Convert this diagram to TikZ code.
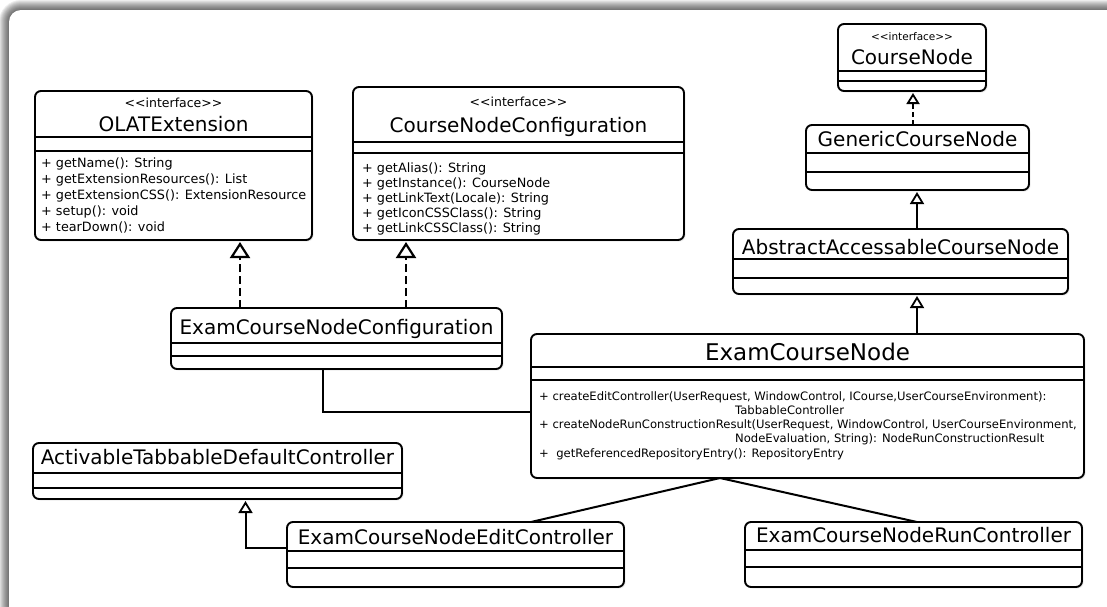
\documentclass[tikz,border=0pt]{standalone}
\usepackage{fontspec}
\setmainfont{DejaVu Sans}
\usetikzlibrary{arrows.meta,shadows}

% class box: name, left, top, right, bottom, first separator, second separator
\newcommand\umlcls[7]{%
  \node[umlbox, minimum width={(#4-#2)*1pt}, minimum height={(#5-#3)*1pt}] (#1) at (#2,#3) {};
  \draw[sep] (#2,#6) -- (#4,#6);
  \draw[sep] (#2,#7) -- (#4,#7);
}
\newcommand\ifacelabel{<{}<interface>{}>}

\begin{document}
\begin{tikzpicture}[x=1pt,y=-1pt,
  umlbox/.style={draw=black, line width=1.9pt, fill=white, rounded corners=6pt,
    inner sep=0pt, outer sep=0pt, anchor=north west,
    drop shadow={opacity=0.15, shadow xshift=1.5pt, shadow yshift=-1.5pt}},
  sep/.style={line width=1.9pt},
  ctitle/.style={font=\fontsize{20}{24}\selectfont, inner sep=0pt, anchor=base},
  bigtitle/.style={font=\fontsize{23}{27}\selectfont, inner sep=0pt, anchor=base},
  stereo/.style={font=\fontsize{12.5}{15}\selectfont, inner sep=0pt, anchor=base},
  smallstereo/.style={font=\fontsize{10.5}{12}\selectfont, inner sep=0pt, anchor=base},
  op/.style={font=\fontsize{12.8}{16}\selectfont, inner sep=0pt, anchor=base west},
  smallop/.style={font=\fontsize{11.6}{14}\selectfont, inner sep=0pt, anchor=base west},
  realize/.style={line width=2.6pt, dash pattern=on 8pt off 4pt, shorten >=2pt,
    -{Triangle[open, width=20pt, length=16pt, line width=2.2pt]}},
  realizesmall/.style={line width=2pt, dash pattern=on 5pt off 3pt, shorten >=2pt,
    -{Triangle[open, width=13pt, length=11pt, line width=1.8pt]}},
  inherit/.style={line width=2pt, shorten >=2pt,
    -{Triangle[open, width=14pt, length=12pt, line width=1.8pt]}},
  assoc/.style={line width=2pt},
]
\useasboundingbox (0,0) rectangle (1107,606);

% framed panel with a soft shadow along its top and left edges
\fill[white] (0,0) rectangle (1107,606);
\foreach \i in {1,...,10}
  \fill[black, opacity=0.07, rounded corners={(12+\i)*1pt}] (9-\i,10-\i) rectangle (1140+\i,640+\i);
\fill[white, rounded corners=12pt] (9,10) rectangle (1140,640);

% ---------- classes ----------
\umlcls{olat}{35}{91}{312}{240}{137}{151}
\node[stereo] (olatst) at (olat.north |- 0,107) {\ifacelabel};
\node[ctitle] (olatt) at (olat.north |- 0,131) {OLATExtension};
\foreach \t [count=\k] in {{+ getName(): String},{+ getExtensionResources(): List},
    {+ getExtensionCSS(): ExtensionResource},{+ setup(): void},{+ tearDown(): void}}
  \node[op] (olatop\k) at (41,{167+16*(\k-1)}) {\t};

\umlcls{cnc}{353}{87}{684}{240}{142}{153}
\node[stereo] (cncst) at (cnc.north |- 0,106) {\ifacelabel};
\node[ctitle] (cnct) at (cnc.north |- 0,132) {CourseNodeConfiguration};
\foreach \t [count=\k] in {{+ getAlias(): String},{+ getInstance(): CourseNode},
    {+ getLinkText(Locale): String},{+ getIconCSSClass(): String},{+ getLinkCSSClass(): String}}
  \node[op] (cncop\k) at (362,{172.5+15*(\k-1)}) {\t};

\umlcls{cn}{838}{24}{986}{91}{71}{81}
\node[smallstereo] (cnst) at (cn.north |- 0,40.5) {\ifacelabel};
\node[ctitle] (cnt) at (cn.north |- 0,64) {CourseNode};

\umlcls{gcn}{806}{125}{1029}{190}{153}{172}
\node[ctitle] (gcnt) at (gcn.north |- 0,146) {GenericCourseNode};

\umlcls{aacn}{733}{229}{1068}{294}{259}{278}
\node[ctitle] (aacnt) at (aacn.north |- 0,254) {AbstractAccessableCourseNode};

\umlcls{ecnc}{171}{308}{502}{369}{343}{356}
\node[ctitle] (ecnct) at (ecnc.north |- 0,334) {ExamCourseNodeConfiguration};

\umlcls{ecn}{531}{334}{1084}{478}{367}{380}
\node[bigtitle] (ecnt) at (ecn.north |- 0,360) {ExamCourseNode};
\node[smallop] (ecnop1) at (539,400) {+ createEditController(UserRequest, WindowControl, ICourse,UserCourseEnvironment):};
\node[smallop] (ecnop2) at (735,414) {TabbableController};
\node[smallop] (ecnop3) at (539,428) {+ createNodeRunConstructionResult(UserRequest, WindowControl, UserCourseEnvironment,};
\node[smallop] (ecnop4) at (735,442) {NodeEvaluation, String): NodeRunConstructionResult};
\node[smallop] (ecnop5) at (539,457) {+\ \ getReferencedRepositoryEntry(): RepositoryEntry};

\umlcls{atdc}{33}{443}{402}{499}{473}{488}
\node[ctitle] (atdct) at (atdc.north |- 0,464) {ActivableTabbableDefaultController};

\umlcls{edit}{287}{522}{624}{587}{551}{568}
\node[ctitle] (editt) at (edit.north |- 0,544) {ExamCourseNodeEditController};

\umlcls{run}{745}{522}{1082}{587}{550}{567}
\node[ctitle] (runt) at (run.north |- 0,542) {ExamCourseNodeRunController};

% ---------- connector lanes ----------
\coordinate (laneA) at (240,0);
\coordinate (laneB) at (406,0);
\coordinate (laneC) at (913,0);
\coordinate (laneD) at (917,0);
\coordinate (laneE) at (323,0);
\coordinate (laneF) at (245.5,0);
\coordinate (laneG) at (720,0);
\coordinate (laneH) at (531,0);
\coordinate (rowA) at (0,412);
\coordinate (rowB) at (0,548);

% ---------- connectors ----------
\draw[realize] (ecnc.north -| laneA) -- (olat.south -| laneA);
\draw[realize] (ecnc.north -| laneB) -- (cnc.south -| laneB);
\draw[realizesmall] (gcn.north -| laneC) -- (cn.south -| laneC);
\draw[inherit] (aacn.north -| laneD) -- (gcn.south -| laneD);
\draw[inherit] (ecn.north -| laneD) -- (aacn.south -| laneD);
\draw[assoc] (ecnc.south -| laneE) |- (ecn.west |- rowA);
\draw[inherit] (edit.west |- rowB) -| (atdc.south -| laneF);
\draw[assoc] (edit.north -| laneH) -- (ecn.south -| laneG) -- (run.north -| laneD);
\end{tikzpicture}
\end{document}
